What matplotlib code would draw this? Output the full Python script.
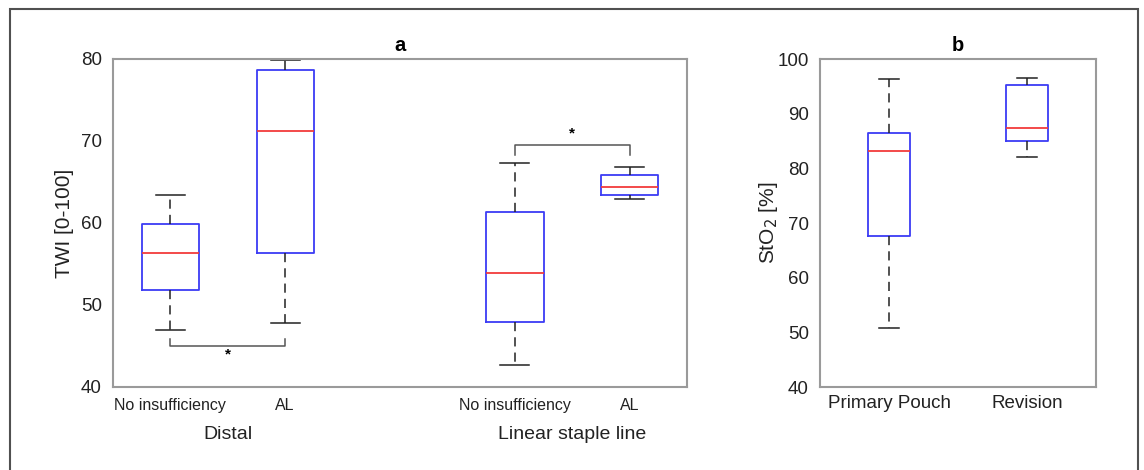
import matplotlib
matplotlib.use("Agg")
import matplotlib.pyplot as plt
from matplotlib.patches import Rectangle
from matplotlib.transforms import blended_transform_factory

plt.rcParams['font.family'] = ['Liberation Sans', 'DejaVu Sans']

# ---- Data (panel a: TWI) ----
a_positions = [1, 2, 4, 5]
a_ticklabels = ["No insufficiency", "AL", "No insufficiency", "AL"]
a_groups = ["Distal", "Linear staple line"]
a_whislo = [47.0, 47.8, 42.7, 62.9]
a_q1 = [51.8, 56.3, 47.9, 63.4]
a_med = [56.3, 71.2, 53.9, 64.4]
a_q3 = [59.9, 78.7, 61.3, 65.8]
a_whishi = [63.4, 79.9, 67.3, 66.8]

# ---- Data (panel b: StO2) ----
b_positions = [1, 2]
b_ticklabels = ["Primary Pouch", "Revision"]
b_whislo = [50.8, 82.0]
b_q1 = [67.7, 85.0]
b_med = [83.1, 87.4]
b_q3 = [86.4, 95.2]
b_whishi = [96.3, 96.5]

BOX = '#3c3cf5'
MED = '#f23c3c'
SPINE = '#9a9a9a'
TXT = '#222222'

fig = plt.figure(figsize=(11.44, 4.70), dpi=100)

# outer frame
fig.patches.append(Rectangle((10/1144, -0.05), 1128/1144, 1.05 - 9/470,
                             transform=fig.transFigure, fill=False,
                             edgecolor='#505050', linewidth=1.5))

ax_a = fig.add_axes([113/1144, 1-387/470, 574/1144, 328/470])
ax_b = fig.add_axes([820/1144, 1-387/470, 276/1144, 328/470])


def make_stats(lo, q1, med, q3, hi):
    return [dict(whislo=l, q1=a, med=m, q3=b, whishi=h, fliers=[])
            for l, a, m, b, h in zip(lo, q1, med, q3, hi)]


def draw(ax, stats, positions, width):
    ax.bxp(stats, positions=positions, widths=width, showfliers=False,
           boxprops=dict(color=BOX, linewidth=1.3),
           medianprops=dict(color=MED, linewidth=1.3),
           whiskerprops=dict(color=TXT, linewidth=1.1, linestyle=(0, (6, 4))),
           capprops=dict(color=TXT, linewidth=1.1))
    for s in ax.spines.values():
        s.set_color(SPINE)
        s.set_linewidth(1.5)
    ax.tick_params(length=0, pad=8)


draw(ax_a, make_stats(a_whislo, a_q1, a_med, a_q3, a_whishi), a_positions, 0.5)
ax_a.set_xlim(0.5, 5.5)
ax_a.set_ylim(40, 80)
ax_a.set_yticks([40, 50, 60, 70, 80])
ax_a.set_xticks(a_positions)
ax_a.set_xticklabels(a_ticklabels, fontsize=11.5, color=TXT)
ax_a.tick_params(axis='y', labelsize=13.5, labelcolor=TXT)
ax_a.set_ylabel("TWI [0-100]", fontsize=15, color=TXT, labelpad=5)
ax_a.set_title("a", fontsize=14.5, fontweight='bold', pad=6)

tr = blended_transform_factory(ax_a.transData, ax_a.transAxes)
ax_a.text(1.5, -0.146, a_groups[0], transform=tr, ha='center', va='center',
          fontsize=14, color=TXT)
ax_a.text(4.5, -0.146, a_groups[1], transform=tr, ha='center', va='center',
          fontsize=14, color=TXT)

# significance brackets
ax_a.plot([1, 1, 2, 2], [45.8, 45.05, 45.05, 45.8], color='#555555', lw=1.1)
ax_a.text(1.5, 44.0, "*", ha='center', va='center', fontsize=11, fontweight='bold')
ax_a.plot([4, 4, 5, 5], [68.3, 69.5, 69.5, 68.3], color='#555555', lw=1.1)
ax_a.text(4.5, 70.9, "*", ha='center', va='center', fontsize=11, fontweight='bold')

draw(ax_b, make_stats(b_whislo, b_q1, b_med, b_q3, b_whishi), b_positions, 0.3)
ax_b.set_xlim(0.5, 2.5)
ax_b.set_ylim(40, 100)
ax_b.set_yticks([40, 50, 60, 70, 80, 90, 100])
ax_b.set_xticks(b_positions)
ax_b.set_xticklabels(b_ticklabels, fontsize=13.5, color=TXT)
ax_b.tick_params(axis='y', labelsize=13.5, labelcolor=TXT)
ax_b.tick_params(axis='x', pad=6)
ax_b.set_ylabel("StO$_2$ [%]", fontsize=15, color=TXT, labelpad=-2)
ax_b.set_title("b", fontsize=14.5, fontweight='bold', pad=6)

fig.savefig("out.png", dpi=100)
